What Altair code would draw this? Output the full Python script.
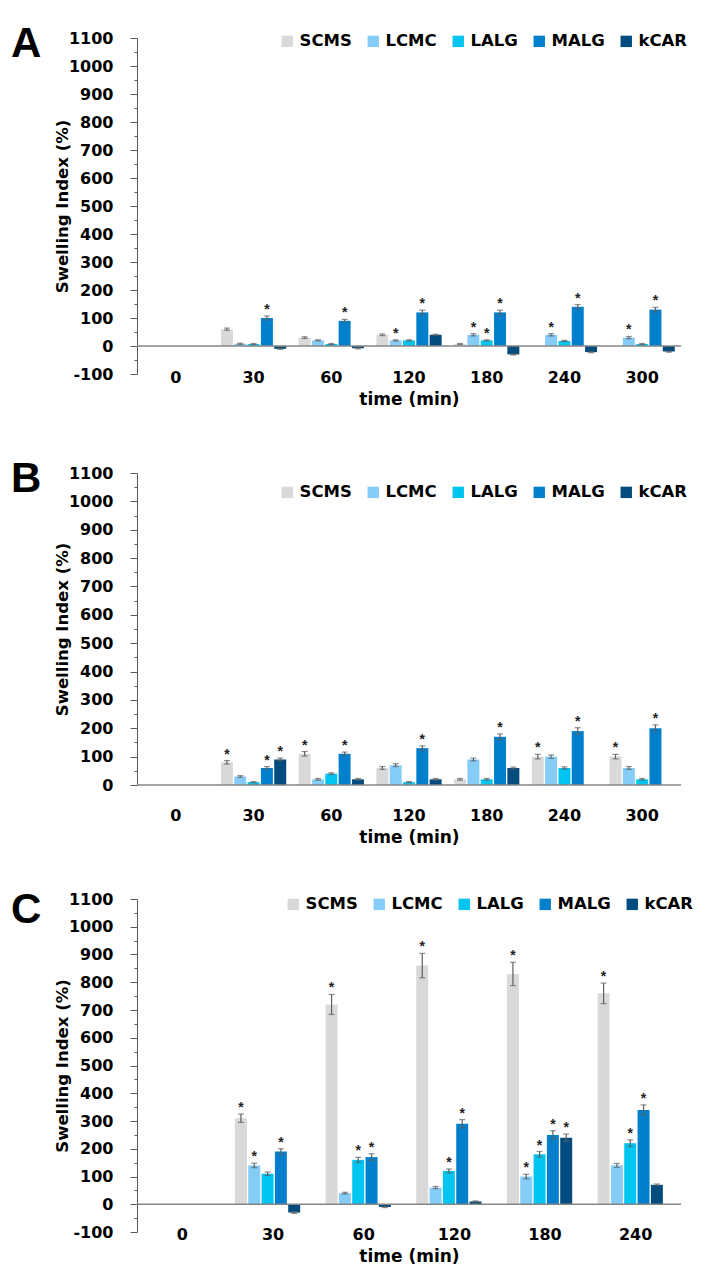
import altair as alt
import pandas as pd

FONT = "DejaVu Sans"
SERIES = ["SCMS", "LCMC", "LALG", "MALG", "kCAR"]
COLORS = ["#D9D9D9", "#85CCF7", "#00C5F0", "#0080CC", "#014B7E"]

TIMES_AB = ["0", "30", "60", "120", "180", "240", "300"]
TIMES_C = ["0", "30", "60", "120", "180", "240"]

# ---------- Panel A (values for 30, 60, 120, 180, 240, 300 min) ----------
A_VAL = {
    "SCMS": [60, 30, 40, 7, None, None],
    "LCMC": [8, 20, 20, 40, 40, 30],
    "LALG": [7, 7, 20, 20, 18, 7],
    "MALG": [100, 90, 120, 120, 140, 130],
    "kCAR": [-10, -8, 40, -30, -22, -20],
}
A_ERR = {
    "SCMS": [4, 3, 3, 2, 0, 0],
    "LCMC": [2, 2, 2, 4, 4, 4],
    "LALG": [2, 2, 2, 2, 2, 2],
    "MALG": [7, 5, 8, 8, 8, 8],
    "kCAR": [2, 2, 2, 2, 2, 2],
}
A_STAR = {
    "SCMS": [0, 0, 0, 0, 0, 0],
    "LCMC": [0, 0, 1, 1, 1, 1],
    "LALG": [0, 0, 0, 1, 0, 0],
    "MALG": [1, 1, 1, 1, 1, 1],
    "kCAR": [0, 0, 0, 0, 0, 0],
}

# ---------- Panel B ----------
B_VAL = {
    "SCMS": [80, 110, 60, 20, 100, 100],
    "LCMC": [30, 20, 70, 90, 100, 60],
    "LALG": [10, 40, 10, 20, 60, 20],
    "MALG": [60, 110, 130, 170, 190, 200],
    "kCAR": [90, 20, 20, 60, None, None],
}
B_ERR = {
    "SCMS": [6, 8, 5, 3, 8, 8],
    "LCMC": [3, 3, 5, 5, 6, 5],
    "LALG": [2, 3, 2, 3, 4, 3],
    "MALG": [5, 6, 8, 10, 12, 12],
    "kCAR": [5, 3, 3, 3, 0, 0],
}
B_STAR = {
    "SCMS": [1, 1, 0, 0, 1, 1],
    "LCMC": [0, 0, 0, 0, 0, 0],
    "LALG": [0, 0, 0, 0, 0, 0],
    "MALG": [1, 1, 1, 1, 1, 1],
    "kCAR": [1, 0, 0, 0, 0, 0],
}

# ---------- Panel C (values for 30, 60, 120, 180, 240 min) ----------
C_VAL = {
    "SCMS": [310, 720, 860, 830, 760],
    "LCMC": [140, 40, 60, 100, 140],
    "LALG": [110, 160, 120, 180, 220],
    "MALG": [190, 170, 290, 250, 340],
    "kCAR": [-30, -10, 10, 240, 70],
}
C_ERR = {
    "SCMS": [15, 36, 44, 42, 37],
    "LCMC": [8, 3, 4, 8, 7],
    "LALG": [6, 9, 7, 10, 12],
    "MALG": [10, 12, 15, 15, 18],
    "kCAR": [3, 2, 2, 13, 3],
}
C_STAR = {
    "SCMS": [1, 1, 1, 1, 1],
    "LCMC": [1, 0, 0, 1, 0],
    "LALG": [0, 1, 1, 1, 1],
    "MALG": [1, 1, 1, 1, 1],
    "kCAR": [0, 0, 0, 1, 0],
}


def build_df(times, vals, errs, stars):
    rows = []
    for s in SERIES:
        for i, t in enumerate(times[1:]):
            v = vals[s][i]
            if v is None:
                continue
            e = errs[s][i]
            rows.append({"time": t, "series": s, "value": v,
                         "lo": v - e, "hi": v + e, "star": stars[s][i]})
    return pd.DataFrame(rows)


def panel(df, times, ymin, height, letter, letter_y, leg_x, leg_y,
          label_pad):
    xenc = alt.X("time:N", sort=times,
                 scale=alt.Scale(domain=times, paddingInner=0.16,
                                 paddingOuter=0.08),
                 axis=alt.Axis(title="time (min)", domain=False, ticks=False,
                               tickSize=0, labelAngle=0,
                               labelBaseline="middle", labelPadding=label_pad,
                               labelFont=FONT, labelFontSize=16,
                               labelFontWeight="bold", labelColor="black",
                               titleFont=FONT, titleFontSize=17,
                               titleFontWeight="bold", titleColor="black",
                               titlePadding=6))
    xo = alt.XOffset("series:N", sort=SERIES,
                     scale=alt.Scale(domain=SERIES, paddingInner=0.1))
    yscale = alt.Scale(domain=[ymin, 1100], nice=False)
    yaxis = alt.Axis(values=list(range(ymin, 1101, 50)),
                     labelExpr="datum.value % 100 == 0 ? '' + datum.value : ''",
                     tickSize={"condition": {"test": "datum.value % 100 != 0",
                                             "value": 3}, "value": 7},
                     grid=False, title="Swelling Index (%)",
                     domainColor="#595959", tickColor="#595959",
                     labelFont=FONT, labelFontSize=16, labelFontWeight="bold",
                     labelColor="black", labelPadding=17,
                     titleFont=FONT, titleFontSize=16.5,
                     titleFontWeight="bold", titleColor="black",
                     titlePadding=-2)
    ttl = "Swelling Index (%)"
    color = alt.Color("series:N",
                      scale=alt.Scale(domain=SERIES, range=COLORS),
                      legend=alt.Legend(orient="none", legendX=leg_x,
                                        legendY=leg_y, direction="horizontal",
                                        title=None, symbolType="square",
                                        symbolSize=130, symbolStrokeWidth=0,
                                        labelFont=FONT, labelFontSize=16.5,
                                        labelFontWeight="bold",
                                        labelColor="black", columnPadding=13,
                                        labelOffset=4))
    base = alt.Chart(df)
    bars = base.mark_bar().encode(
        x=xenc, xOffset=xo,
        y=alt.Y("value:Q", scale=yscale, axis=yaxis, title=ttl), color=color)
    err = base.mark_rule(color="#5f5f5f", strokeWidth=1.2).encode(
        x=xenc, xOffset=xo, y=alt.Y("lo:Q", axis=yaxis, title=ttl),
        y2="hi:Q")
    cap_hi = base.mark_tick(orient="horizontal", size=6, thickness=1.2,
                            color="#5f5f5f").encode(
        x=xenc, xOffset=xo, y=alt.Y("hi:Q", axis=yaxis, title=ttl))
    cap_lo = base.mark_tick(orient="horizontal", size=6, thickness=1.2,
                            color="#5f5f5f").encode(
        x=xenc, xOffset=xo, y=alt.Y("lo:Q", axis=yaxis, title=ttl))
    stars = base.transform_filter("datum.star == 1").mark_text(
        text="*", fontSize=14, font="Liberation Sans", fontWeight="bold",
        fill="#222222", baseline="bottom", dy=1).encode(
        x=xenc, xOffset=xo, y=alt.Y("hi:Q", axis=yaxis, title=ttl))
    zero = alt.Chart(pd.DataFrame({"z": [0]})).mark_rule(
        color="#868686", strokeWidth=1.5).encode(
        y=alt.Y("z:Q", axis=yaxis, title=ttl))
    lab = alt.Chart(pd.DataFrame({"t": [letter]})).mark_text(
        font="Liberation Sans", fontSize=42, fontWeight="bold", align="left",
        baseline="middle", color="black").encode(
        text="t:N", x=alt.value(-126), y=alt.value(letter_y))
    return alt.layer(bars, err, cap_hi, cap_lo, stars, zero, lab).properties(
        width=544, height=height)


dfA = build_df(TIMES_AB, A_VAL, A_ERR, A_STAR)
dfB = build_df(TIMES_AB, B_VAL, B_ERR, B_STAR)
dfC = build_df(TIMES_C, C_VAL, C_ERR, C_STAR)

pA = panel(dfA, TIMES_AB, -100, 336, "A", 6, 142, -5, 3)
pB = panel(dfB, TIMES_AB, 0, 312, "B", 6, 142, 11, 30)
pC = panel(dfC, TIMES_C, -100, 333, "C", 11, 148, -3, 2)

top = alt.vconcat(pA, pB, spacing=51).resolve_scale(
    color="independent", x="independent", y="independent").resolve_legend(
    color="independent")
chart = alt.vconcat(top, pC, spacing=44).resolve_scale(
    color="independent", x="independent", y="independent").resolve_legend(
    color="independent").properties(
    padding={"left": 3, "top": 15, "right": 5, "bottom": 5}).configure_view(
    stroke=None)

chart.save("out.html", embed_options={"renderer": "svg", "actions": False})
